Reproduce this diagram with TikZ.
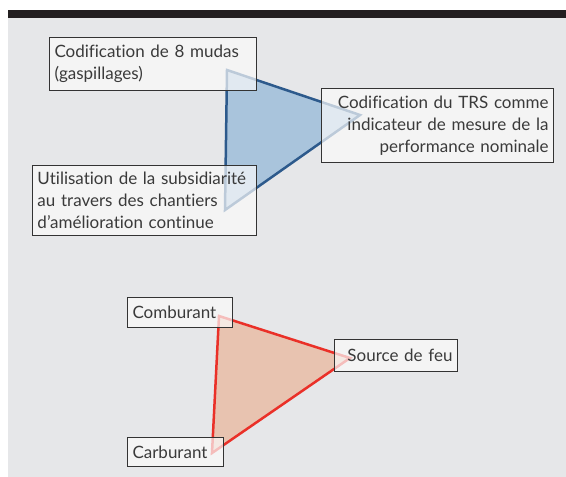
\documentclass[tikz,border=0pt]{standalone}
\usepackage{fontspec}
\setmainfont{Lato}[Ligatures={NoCommon}]
\definecolor{bggray}{HTML}{E6E7E9}
\definecolor{barblack}{HTML}{231F20}
\definecolor{boxfill}{HTML}{FAFAFA}
\definecolor{txt}{HTML}{3A3A3A}
\definecolor{bluestroke}{HTML}{2D5A8C}
\definecolor{bluefill}{HTML}{A9C4DC}
\definecolor{redstroke}{HTML}{EA3028}
\definecolor{redfill}{HTML}{E8C3B0}
\begin{document}
\begin{tikzpicture}[x=1pt,y=-1pt,
  lbl/.style={draw=black!80, line width=1pt, fill=boxfill, fill opacity=0.7, text opacity=1,
    text=txt, font=\fontsize{17}{22}\selectfont, inner xsep=5pt, inner ysep=0pt, anchor=north west, rectangle},
  tri/.style={line width=2.5pt, line join=miter}]
\useasboundingbox (0,0) rectangle (566,477);
\fill[white] (0,0) rectangle (566,477);
\fill[bggray] (8,17) rectangle (566,477);
\fill[barblack] (8,10) rectangle (566,17.5);
% blue triangle
\coordinate (bt) at (227,70);
\coordinate (br) at (360,115);
\coordinate (bb) at (225,210);
\draw[tri, draw=bluestroke, fill=bluefill] (bt) -- (br) -- (bb) -- cycle;
% red triangle
\coordinate (rt) at (219,316);
\coordinate (rr) at (350,358);
\coordinate (rb) at (212,453);
\draw[tri, draw=redstroke, fill=redfill] (rt) -- (rr) -- (rb) -- cycle;
% boxes
\node[lbl, minimum width=207pt, minimum height=53pt, text width=197pt, align=left] (mudas) at (49,37)
  {Codification de 8 mudas\\(gaspillages)};
\node[lbl, minimum width=232pt, minimum height=74pt, text width=222pt, align=right] (trs) at (321,88)
  {Codification du TRS comme\\indicateur de mesure de la\\performance nominale};
\node[lbl, minimum width=224pt, minimum height=70pt, text width=214pt, align=left] (subs) at (32,165)
  {Utilisation de la subsidiarité\\au travers des chantiers\\d’amélioration continue};
\node[lbl, minimum width=105pt, minimum height=30pt, text width=95pt, align=left] (comb) at (127,297)
  {Comburant};
\node[lbl, minimum width=123pt, minimum height=32pt, text width=113pt, align=right] (feu) at (334,339)
  {Source de feu};
\node[lbl, minimum width=96pt, minimum height=29pt, text width=86pt, align=left] (carb) at (127,437)
  {Carburant};
\end{tikzpicture}
\end{document}
